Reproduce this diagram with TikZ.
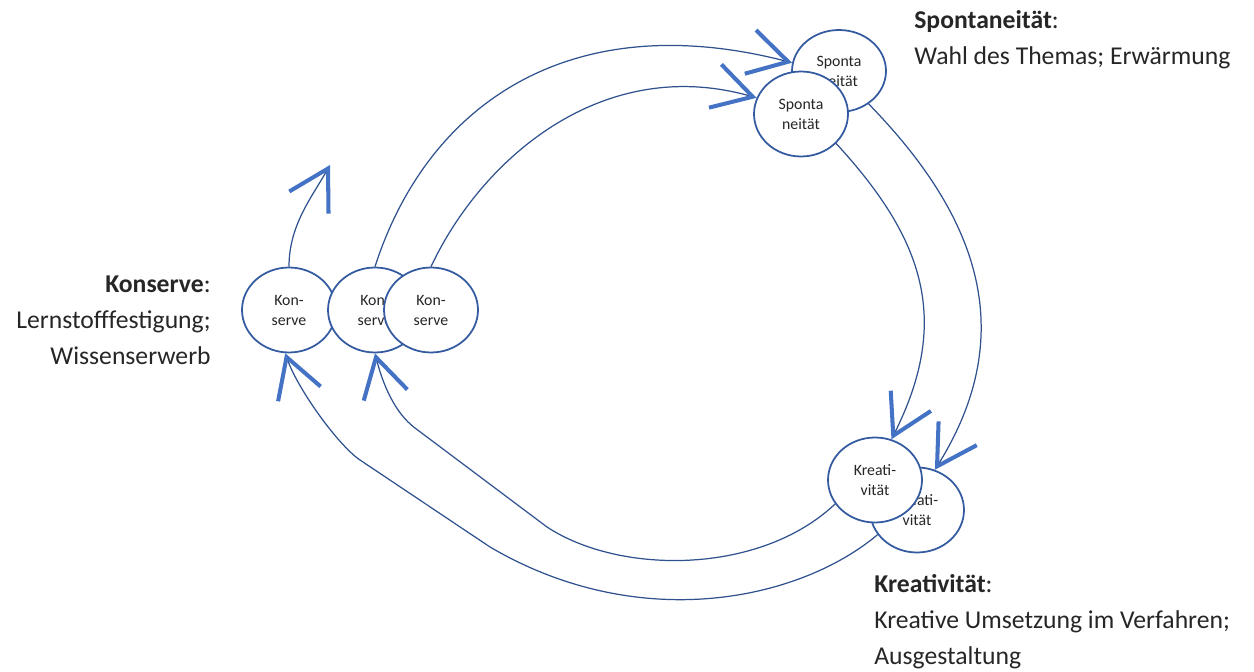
\documentclass[tikz,border=0pt]{standalone}
\usepackage{fontspec}
\setmainfont{Carlito}
\usepackage{xcolor}
\usepackage{tikz}
\usetikzlibrary{shapes.geometric, arrows.meta, positioning}
\definecolor{ringblue}{RGB}{52, 90, 160}
\definecolor{lineblue}{RGB}{47, 82, 143}
\definecolor{tipblue}{RGB}{68, 114, 196}
\definecolor{textdark}{RGB}{38, 38, 38}
\tikzset{
    stage/.style={ellipse, draw=ringblue, fill=white, line width=1pt, minimum width=1.88cm, minimum height=1.7cm, inner sep=0pt, align=center, text=textdark, font=\fontsize{9}{11.4}\selectfont},
    note/.style={align=left, text=textdark, inner sep=0pt, font=\fontsize{14.6}{20.5}\selectfont},
    flow/.style={draw=lineblue, line width=0.7pt, -{Straight Barb[length=0.78cm, width=0.9cm, line width=2.3pt, color=tipblue]}}
}

\begin{document}
\begin{tikzpicture}[x=0.02cm, y=-0.02cm]
    \useasboundingbox (0,0) rectangle (1254,672);
    % Konserve
    \node (kon1) [stage] at (289,310) {Kon-\\serve};
    \node (kon2) [stage] at (375,310) {Kon-\\serve};
    \node (kon3) [stage] at (431,310) {Kon-\\serve};
    % Spontaneitaet
    \node (spo1) [stage, minimum height=1.64cm] at (839,71) {Sponta\\neität};
    \node (spo2) [stage] at (801,114) {Sponta\\neität};
    % Kreativitaet
    \node (kre2) [stage] at (917,510) {Kreati-\\vität};
    \node (kre1) [stage] at (875,480) {Kreati-\\vität};

    \node (konnote) [note, align=right, anchor=east] at (211,320) {\textbf{Konserve}:\\Lernstofffestigung;\\Wissenserwerb};
    \node (sponote) [note, anchor=west] at (914,40) {\textbf{Spontaneität}:\\Wahl des Themas; Erwärmung};
    \node (krenote) [note, anchor=west] at (874,622) {\textbf{Kreativität}:\\Kreative Umsetzung im Verfahren;\\Ausgestaltung};

    \coordinate (kontip) at (330,165);
    \draw [flow] (kon1.north) .. controls (289,225) and (312,197) .. (kontip);
    \draw [flow] (kon2.north) .. controls (427,105) and (569,5) .. (spo1.170);
    \draw [flow] (kon3.north) .. controls (482,158) and (603,54) .. (spo2.160);
    \draw [flow] (spo1.-48) .. controls (975,213) and (1022,330) .. (kre2.66);
    \draw [flow] (spo2.-40) .. controls (925,240) and (951,321) .. (kre1.68);
    \draw [flow] (kre1.211) .. controls (760,575) and (620,575) .. (547,527) -- (415,428) .. controls (395,413) and (383,385) .. (kon2.south);
    \draw [flow] (kre2.212) .. controls (800,600) and (640,635) .. (490,547) -- (360,460) .. controls (339,446) and (298,390) .. (kon1.265);
\end{tikzpicture}
\end{document}
